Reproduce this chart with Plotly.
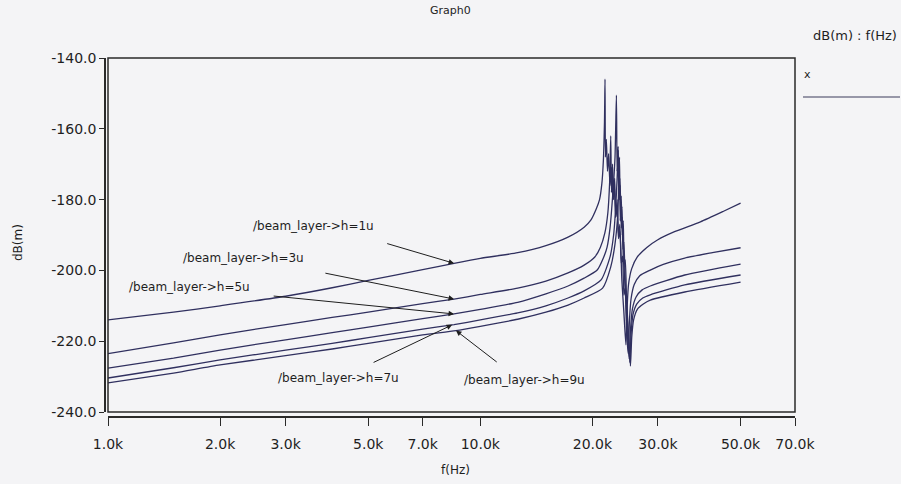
import numpy as np
import plotly.graph_objects as go

# ---- frequency response data: dB(m) vs f(Hz) for five beam_layer thicknesses ----
freq_1u = [1000, 1500, 2000, 3000, 4000, 5000, 7000, 8500, 10000, 12600, 15000, 17200,
           19000, 19800, 20500, 20900, 21200, 21400, 21550, 21620, 21680, 21800, 21950, 22100,
           22300, 22500, 22700, 22900, 23100, 23300, 23500, 23700, 24000, 24300, 24600, 24800,
           25000, 25500, 26400, 28000, 29900, 33000, 39000, 45000, 50000]
db_1u = [-214.0, -211.8, -210.0, -207.3, -204.9, -202.8, -199.8, -198.0, -196.6, -195.0, -193.0, -190.6,
         -187.8, -185.8, -182.5, -180.0, -175.5, -169.0, -158.0, -146.0, -168.0, -163.0, -172.0, -167.0,
         -176.0, -171.0, -180.0, -176.0, -185.0, -182.0, -191.0, -189.0, -203.0, -212.0, -221.0, -210.0,
         -204.0, -199.5, -196.2, -193.5, -191.4, -189.2, -186.3, -183.3, -181.0]

freq_3u = [1000, 1500, 2000, 3000, 4000, 5000, 7000, 8500, 10000, 12600, 15000, 17200,
           19000, 20300, 21000, 21600, 22000, 22250, 22400, 22500, 22650, 22800, 22950, 23100,
           23300, 23500, 23700, 23900, 24100, 24300, 24500, 24700, 24950, 25150, 25400, 25900,
           26800, 28600, 31000, 35400, 42000, 50000]
db_3u = [-223.5, -220.5, -218.2, -215.3, -213.3, -211.8, -209.4, -208.1, -206.8, -205.0, -203.0, -200.7,
         -198.5, -196.2, -193.5, -189.4, -183.8, -175.0, -162.0, -178.0, -170.0, -180.0, -174.0, -185.0,
         -180.0, -190.0, -187.0, -198.0, -196.0, -207.0, -205.0, -217.0, -223.5, -214.0, -208.0, -204.0,
         -201.5, -199.9, -198.3, -196.5, -195.0, -193.6]

freq_5u = [1000, 1500, 2000, 3000, 4000, 5000, 7000, 8500, 10000, 12600, 15000, 17200,
           19000, 20600, 21400, 21900, 22300, 22700, 23000, 23200, 23300, 23450, 23600, 23750,
           23900, 24050, 24200, 24400, 24600, 24800, 25100, 25300, 25600, 26200, 27200, 28600,
           35400, 50000]
db_5u = [-227.6, -224.8, -222.5, -219.6, -217.6, -216.0, -213.6, -212.3, -211.0, -209.0, -206.6, -204.4,
         -202.2, -199.9, -196.5, -193.4, -188.0, -178.0, -168.0, -150.5, -172.0, -165.0, -180.0, -176.0,
         -188.0, -185.0, -196.0, -202.0, -209.0, -217.0, -225.0, -217.0, -211.0, -207.5, -205.5, -204.4,
         -201.3, -198.2]

freq_7u = [1000, 1500, 2000, 3000, 4000, 5000, 7000, 8500, 10000, 12600, 15000, 17200,
           19000, 21100, 22300, 22800, 23100, 23300, 23450, 23550, 23700, 23850, 24000, 24150,
           24300, 24500, 24700, 24900, 25200, 25400, 25700, 26300, 27300, 28600, 35400, 50000]
db_7u = [-230.4, -227.5, -225.3, -222.5, -220.6, -219.0, -216.6, -215.3, -214.0, -212.0, -210.0, -207.8,
         -205.8, -202.7, -196.2, -190.0, -182.0, -174.0, -166.0, -180.0, -174.0, -186.0, -182.0, -194.0,
         -192.0, -204.0, -210.0, -217.0, -226.0, -218.0, -212.5, -209.5, -207.8, -206.9, -204.1, -201.3]

freq_9u = [1000, 1500, 2000, 3000, 4000, 5000, 7000, 8600, 10000, 12600, 15000, 17200,
           19000, 21300, 22400, 23000, 23400, 23650, 23750, 23900, 24050, 24200, 24350, 24500,
           24700, 25000, 25300, 25500, 25800, 26400, 27400, 28600, 35400, 50000]
db_9u = [-231.8, -229.0, -226.7, -224.1, -222.2, -220.6, -218.2, -217.0, -215.8, -213.8, -211.8, -209.8,
         -207.8, -205.0, -199.0, -192.5, -184.0, -168.0, -186.0, -179.0, -190.0, -186.0, -198.0, -197.0,
         -208.0, -218.0, -227.0, -219.0, -214.0, -211.0, -209.5, -208.4, -206.1, -203.3]

series = [
    ("/beam_layer->h=1u", freq_1u, db_1u),
    ("/beam_layer->h=3u", freq_3u, db_3u),
    ("/beam_layer->h=5u", freq_5u, db_5u),
    ("/beam_layer->h=7u", freq_7u, db_7u),
    ("/beam_layer->h=9u", freq_9u, db_9u),
]

x_tick_vals = [1000, 2000, 3000, 5000, 7000, 10000, 20000, 30000, 50000, 70000]
x_tick_text = ["1.0k", "2.0k", "3.0k", "5.0k", "7.0k", "10.0k", "20.0k", "30.0k", "50.0k", "70.0k"]
y_tick_vals = [-240, -220, -200, -180, -160, -140]
y_tick_text = ["-240.0", "-220.0", "-200.0", "-180.0", "-160.0", "-140.0"]

# label placement: (text anchor f, dB), arrow tail (f, dB), arrow tip frequency
label_text_pos = [(3570, -187.5), (2310, -196.5), (1655, -204.7), (4150, -230.4), (13120, -231.0)]
label_arrow_tail = [(5570, -192.3), (3800, -200.7), (2760, -207.2), (5120, -226.2), (11170, -226.2)]
label_arrow_tip_f = [8500, 8500, 8500, 8400, 8600]

FONT = "DejaVu Sans"
INK = "#1e1e1e"
LINE = "#30305f"
BG = "#f4f4f6"

W, H = 901, 484
ML, MR, MT, MB = 105, 106, 58, 67
PW, PH = W - ML - MR, H - MT - MB


def px(x):
    return (x - ML) / PW


def py(y):
    return (H - MB - y) / PH


fig = go.Figure()
for name, f, d in series:
    fig.add_trace(go.Scatter(x=f, y=d, mode="lines", name=name,
                             line=dict(color=LINE, width=1.3, shape="spline", smoothing=0.6),
                             showlegend=False))

annotations = []
for (name, f, d), (tf, td), (af, ad), tipf in zip(series, label_text_pos, label_arrow_tail, label_arrow_tip_f):
    tip_db = float(np.interp(np.log10(tipf), np.log10(f), d))
    annotations.append(dict(x=np.log10(tf), y=td, xref="x", yref="y", text=name, showarrow=False,
                            xanchor="center", yanchor="middle",
                            font=dict(family=FONT, size=12, color=INK)))
    annotations.append(dict(x=np.log10(tipf), y=tip_db, xref="x", yref="y", text="",
                            showarrow=True, axref="x", ayref="y", ax=np.log10(af), ay=ad,
                            arrowhead=2, arrowsize=1.1, arrowwidth=1, arrowcolor=INK))


def note(text, x, y, size, xanchor="center", angle=0):
    return dict(x=px(x), y=py(y), xref="paper", yref="paper", text=text, showarrow=False,
                xanchor=xanchor, yanchor="middle", textangle=angle,
                font=dict(family=FONT, size=size, color=INK))


annotations += [
    note("Graph0", 450, 10, 11),
    note("dB(m) : f(Hz)", 855, 35, 13),
    note("x", 802, 75, 11, xanchor="left"),
    note("dB(m)", 18, 243, 12, angle=-90),
    note("f(Hz)", 455, 470, 12),
]

shapes = [
    dict(type="rect", xref="x domain", yref="y domain", x0=0, x1=1, y0=0, y1=1,
         line=dict(color="#2a2a2a", width=1.5)),
    dict(type="line", xref="paper", yref="paper", x0=px(803), x1=px(900), y0=py(97), y1=py(97),
         line=dict(color="#3a3a5a", width=1.2)),
]

fig.update_layout(
    width=W, height=H,
    margin=dict(l=ML, r=MR, t=MT, b=MB),
    paper_bgcolor=BG, plot_bgcolor=BG,
    font=dict(family=FONT, color=INK),
    xaxis=dict(type="log", range=[3, np.log10(70000)], domain=[3 / PW, 1],
               anchor="free", position=0,
               showline=True, linecolor="#2a2a2a", linewidth=1.5,
               ticks="outside", ticklen=8, tickcolor="#2a2a2a", tickwidth=1.2,
               ticklabelstandoff=6,
               tickvals=x_tick_vals, ticktext=x_tick_text,
               tickfont=dict(family=FONT, size=14, color=INK),
               showgrid=False, zeroline=False),
    yaxis=dict(range=[-240, -140], domain=[5 / PH, 1],
               anchor="free", position=0,
               showline=True, linecolor="#2a2a2a", linewidth=1.5,
               ticks="outside", ticklen=5, tickcolor="#2a2a2a", tickwidth=1.2,
               tickvals=y_tick_vals, ticktext=y_tick_text,
               tickfont=dict(family=FONT, size=14, color=INK),
               showgrid=False, zeroline=False),
    annotations=annotations,
    shapes=shapes,
)

fig.write_html("out.html")
